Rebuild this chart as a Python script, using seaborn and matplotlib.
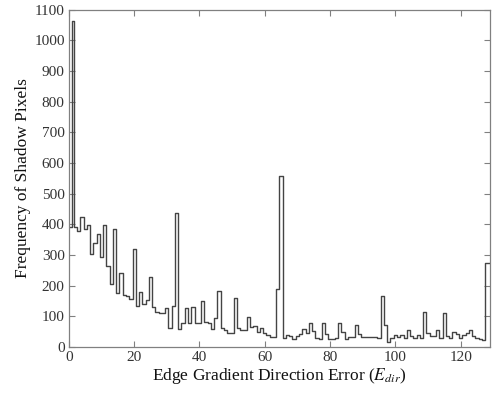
import numpy as np
import pandas as pd
import matplotlib
matplotlib.use("Agg")
import matplotlib.pyplot as plt
import seaborn as sns

# Histogram counts for direction error 1..128
error_bins = np.arange(1, 129)
pixel_counts = [
    1065, 390, 378, 425, 385, 398, 302, 340, 370, 293,
    398, 265, 205, 385, 176, 243, 170, 168, 157, 320,
    134, 178, 140, 154, 228, 131, 115, 110, 110, 126,
    61, 134, 438, 58, 78, 127, 78, 130, 78, 78,
    151, 83, 78, 58, 94, 183, 61, 56, 46, 46,
    161, 61, 56, 56, 99, 66, 70, 50, 61, 45,
    38, 32, 32, 188, 558, 30, 38, 35, 25, 36,
    41, 58, 45, 77, 52, 28, 25, 77, 44, 25,
    25, 30, 77, 48, 25, 33, 33, 72, 44, 33,
    33, 33, 32, 32, 28, 165, 72, 15, 30, 38,
    32, 40, 28, 55, 35, 28, 40, 30, 115, 45,
    35, 35, 56, 30, 112, 35, 30, 50, 42, 28,
    40, 45, 55, 35, 30, 25, 22, 275,
]
# the curve starts at ~390 before the first (narrow) peak bin
lead_count = 392
x_ticks = [0, 20, 40, 60, 80, 100, 120]
y_ticks = list(range(0, 1101, 100))

sns.set_theme(style="ticks")
plt.rcParams["font.family"] = ["Liberation Serif", "DejaVu Serif"]
plt.rcParams["mathtext.fontset"] = "stix"

fig = plt.figure(figsize=(4.99, 3.93), dpi=100)
ax = fig.add_axes([0.138, 0.117, 0.844, 0.858])

# bin edges: lead bin [0,1], then narrow first bin [1,1.5], then unit bins
edges = [0.0, 1.0] + list(error_bins[:-1] + 0.5) + [129.0]
centers = [0.5, 1.25] + list(error_bins[1:].astype(float))
df = pd.DataFrame({"err": centers, "count": [lead_count] + pixel_counts})

sns.histplot(data=df, x="err", weights="count", bins=edges, element="step",
             fill=False, color="#444444", linewidth=1.0, ax=ax)

ax.set_xlim(0, 129)
ax.set_ylim(0, 1100)
ax.set_xticks(x_ticks)
ax.set_yticks(y_ticks)
ax.tick_params(direction="in", length=4, width=0.8, colors="#808080",
               labelcolor="#333333", labelsize=11, top=True, right=True, pad=3)
for s in ax.spines.values():
    s.set_visible(True)
    s.set_color("#808080")
    s.set_linewidth(0.9)

ax.set_xlabel(r"Edge Gradient Direction Error ($E_{dir}$)", fontsize=12.5,
              color="#111111", labelpad=1)
ax.set_ylabel("Frequency of Shadow Pixels", fontsize=12.5, color="#111111",
              labelpad=2)

fig.savefig("out.png", dpi=100)
